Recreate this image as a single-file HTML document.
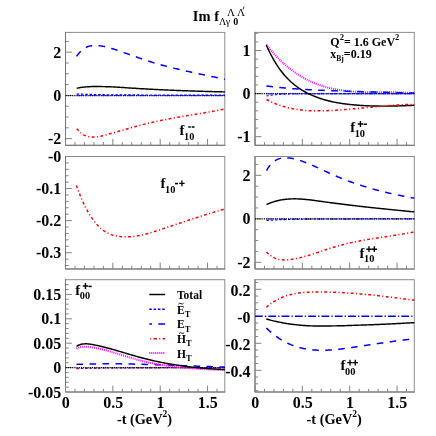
<!DOCTYPE html>
<html><head><meta charset="utf-8"><title>Im f</title>
<style>
html,body{margin:0;padding:0;background:#fff;}
body{width:436px;height:436px;overflow:hidden;}
svg{display:block;will-change:transform;}
text{font-family:"Liberation Serif",serif;font-weight:bold;fill:#000;}
.ax{font-size:16px;}
.xt{font-size:14.3px;}
.lg{font-size:11.5px;}
.pf{font-size:14.8px;}
.ps{font-size:10.3px;}
.pp{font-size:10.5px;}
.tt{font-size:14.5px;}
.tsn{font-size:10px;font-weight:normal;}
.tsb{font-size:10px;}
.tsu{font-size:11px;font-weight:normal;}
.an{font-size:12px;}
</style></head>
<body>
<svg width="436" height="436" viewBox="0 0 436 436">
<rect width="436" height="436" fill="#fff"/>
<rect x="65.5" y="32.4" width="159.3" height="112.9" fill="#fff" stroke="#8c8c8c" stroke-width="1"/>
<path d="M65.5 31.9 V145.3 H225.3" fill="none" stroke="#747474" stroke-width="1"/>
<rect x="255.0" y="32.4" width="159.3" height="112.9" fill="#fff" stroke="#8c8c8c" stroke-width="1"/>
<path d="M255.0 31.9 V145.3 H414.8" fill="none" stroke="#747474" stroke-width="1"/>
<path d="M65.50 145.3 v-6.4 M74.97 145.3 v-3.2 M84.44 145.3 v-3.2 M93.91 145.3 v-3.2 M103.38 145.3 v-3.2 M112.85 145.3 v-6.4 M122.32 145.3 v-3.2 M131.79 145.3 v-3.2 M141.26 145.3 v-3.2 M150.73 145.3 v-3.2 M160.20 145.3 v-6.4 M169.67 145.3 v-3.2 M179.14 145.3 v-3.2 M188.61 145.3 v-3.2 M198.08 145.3 v-3.2 M207.55 145.3 v-6.4 M217.02 145.3 v-3.2" stroke="#828282" stroke-width="1" fill="none"/>
<path d="M255.00 145.3 v-6.4 M264.47 145.3 v-3.2 M273.94 145.3 v-3.2 M283.41 145.3 v-3.2 M292.88 145.3 v-3.2 M302.35 145.3 v-6.4 M311.82 145.3 v-3.2 M321.29 145.3 v-3.2 M330.76 145.3 v-3.2 M340.23 145.3 v-3.2 M349.70 145.3 v-6.4 M359.17 145.3 v-3.2 M368.64 145.3 v-3.2 M378.11 145.3 v-3.2 M387.58 145.3 v-3.2 M397.05 145.3 v-6.4 M406.52 145.3 v-3.2" stroke="#828282" stroke-width="1" fill="none"/>
<rect x="65.5" y="156.5" width="159.3" height="112.5" fill="#fff" stroke="#8c8c8c" stroke-width="1"/>
<path d="M65.5 156.0 V269.0 H225.3" fill="none" stroke="#747474" stroke-width="1"/>
<rect x="255.0" y="156.5" width="159.3" height="112.5" fill="#fff" stroke="#8c8c8c" stroke-width="1"/>
<path d="M255.0 156.0 V269.0 H414.8" fill="none" stroke="#747474" stroke-width="1"/>
<path d="M65.50 269.0 v-6.4 M74.97 269.0 v-3.2 M84.44 269.0 v-3.2 M93.91 269.0 v-3.2 M103.38 269.0 v-3.2 M112.85 269.0 v-6.4 M122.32 269.0 v-3.2 M131.79 269.0 v-3.2 M141.26 269.0 v-3.2 M150.73 269.0 v-3.2 M160.20 269.0 v-6.4 M169.67 269.0 v-3.2 M179.14 269.0 v-3.2 M188.61 269.0 v-3.2 M198.08 269.0 v-3.2 M207.55 269.0 v-6.4 M217.02 269.0 v-3.2" stroke="#828282" stroke-width="1" fill="none"/>
<path d="M255.00 269.0 v-6.4 M264.47 269.0 v-3.2 M273.94 269.0 v-3.2 M283.41 269.0 v-3.2 M292.88 269.0 v-3.2 M302.35 269.0 v-6.4 M311.82 269.0 v-3.2 M321.29 269.0 v-3.2 M330.76 269.0 v-3.2 M340.23 269.0 v-3.2 M349.70 269.0 v-6.4 M359.17 269.0 v-3.2 M368.64 269.0 v-3.2 M378.11 269.0 v-3.2 M387.58 269.0 v-3.2 M397.05 269.0 v-6.4 M406.52 269.0 v-3.2" stroke="#828282" stroke-width="1" fill="none"/>
<rect x="65.5" y="279.7" width="159.3" height="112.3" fill="#fff" stroke="#8c8c8c" stroke-width="1"/>
<path d="M65.5 279.2 V392.0 H225.3" fill="none" stroke="#747474" stroke-width="1"/>
<rect x="255.0" y="279.7" width="159.3" height="112.3" fill="#fff" stroke="#8c8c8c" stroke-width="1"/>
<path d="M255.0 279.2 V392.0 H414.8" fill="none" stroke="#747474" stroke-width="1"/>
<path d="M65.50 392.0 v-6.4 M74.97 392.0 v-3.2 M84.44 392.0 v-3.2 M93.91 392.0 v-3.2 M103.38 392.0 v-3.2 M112.85 392.0 v-6.4 M122.32 392.0 v-3.2 M131.79 392.0 v-3.2 M141.26 392.0 v-3.2 M150.73 392.0 v-3.2 M160.20 392.0 v-6.4 M169.67 392.0 v-3.2 M179.14 392.0 v-3.2 M188.61 392.0 v-3.2 M198.08 392.0 v-3.2 M207.55 392.0 v-6.4 M217.02 392.0 v-3.2" stroke="#828282" stroke-width="1" fill="none"/>
<path d="M255.00 392.0 v-6.4 M264.47 392.0 v-3.2 M273.94 392.0 v-3.2 M283.41 392.0 v-3.2 M292.88 392.0 v-3.2 M302.35 392.0 v-6.4 M311.82 392.0 v-3.2 M321.29 392.0 v-3.2 M330.76 392.0 v-3.2 M340.23 392.0 v-3.2 M349.70 392.0 v-6.4 M359.17 392.0 v-3.2 M368.64 392.0 v-3.2 M378.11 392.0 v-3.2 M387.58 392.0 v-3.2 M397.05 392.0 v-6.4 M406.52 392.0 v-3.2" stroke="#828282" stroke-width="1" fill="none"/>
<path d="M65.5 138.60 h6.4 M65.5 127.80 h3.2 M65.5 117.00 h3.2 M65.5 106.20 h3.2 M65.5 95.40 h6.4 M65.5 84.60 h3.2 M65.5 73.80 h3.2 M65.5 63.00 h3.2 M65.5 52.20 h6.4 M65.5 41.40 h3.2" stroke="#828282" stroke-width="1" fill="none"/>
<text x="61.3" y="57.70" text-anchor="end" class="ax">2</text>
<text x="61.3" y="100.90" text-anchor="end" class="ax">0</text>
<text x="61.3" y="144.10" text-anchor="end" class="ax">-2</text>
<path d="M255.0 136.70 h6.4 M255.0 128.08 h3.2 M255.0 119.46 h3.2 M255.0 110.84 h3.2 M255.0 102.22 h3.2 M255.0 93.60 h6.4 M255.0 84.98 h3.2 M255.0 76.36 h3.2 M255.0 67.74 h3.2 M255.0 59.12 h3.2 M255.0 50.50 h6.4 M255.0 41.88 h3.2 M255.0 33.26 h3.2" stroke="#828282" stroke-width="1" fill="none"/>
<text x="250.6" y="56.00" text-anchor="end" class="ax">1</text>
<text x="250.6" y="99.10" text-anchor="end" class="ax">0</text>
<text x="250.6" y="142.20" text-anchor="end" class="ax">-1</text>
<path d="M65.5 265.54 h3.2 M65.5 259.12 h3.2 M65.5 252.71 h6.4 M65.5 246.30 h3.2 M65.5 239.88 h3.2 M65.5 233.47 h3.2 M65.5 227.05 h3.2 M65.5 220.64 h6.4 M65.5 214.23 h3.2 M65.5 207.81 h3.2 M65.5 201.40 h3.2 M65.5 194.98 h3.2 M65.5 188.57 h6.4 M65.5 182.16 h3.2 M65.5 175.74 h3.2 M65.5 169.33 h3.2 M65.5 162.91 h3.2" stroke="#828282" stroke-width="1" fill="none"/>
<text x="61.3" y="162.00" text-anchor="end" class="ax">-0</text>
<text x="61.3" y="194.07" text-anchor="end" class="ax">-0.1</text>
<text x="61.3" y="226.14" text-anchor="end" class="ax">-0.2</text>
<text x="61.3" y="258.21" text-anchor="end" class="ax">-0.3</text>
<path d="M255.0 262.30 h6.4 M255.0 251.43 h3.2 M255.0 240.55 h3.2 M255.0 229.68 h3.2 M255.0 218.80 h6.4 M255.0 207.93 h3.2 M255.0 197.05 h3.2 M255.0 186.18 h3.2 M255.0 175.30 h6.4 M255.0 164.43 h3.2" stroke="#828282" stroke-width="1" fill="none"/>
<text x="250.6" y="180.80" text-anchor="end" class="ax">2</text>
<text x="250.6" y="224.30" text-anchor="end" class="ax">0</text>
<text x="250.6" y="267.80" text-anchor="end" class="ax">-2</text>
<path d="M65.5 387.12 h3.2 M65.5 382.24 h3.2 M65.5 377.36 h3.2 M65.5 372.48 h3.2 M65.5 367.60 h6.4 M65.5 362.72 h3.2 M65.5 357.84 h3.2 M65.5 352.96 h3.2 M65.5 348.08 h3.2 M65.5 343.20 h6.4 M65.5 338.32 h3.2 M65.5 333.44 h3.2 M65.5 328.56 h3.2 M65.5 323.68 h3.2 M65.5 318.80 h6.4 M65.5 313.92 h3.2 M65.5 309.04 h3.2 M65.5 304.16 h3.2 M65.5 299.28 h3.2 M65.5 294.40 h6.4 M65.5 289.52 h3.2 M65.5 284.64 h3.2" stroke="#828282" stroke-width="1" fill="none"/>
<text x="61.3" y="299.90" text-anchor="end" class="ax">0.15</text>
<text x="61.3" y="324.30" text-anchor="end" class="ax">0.1</text>
<text x="61.3" y="348.70" text-anchor="end" class="ax">0.05</text>
<text x="61.3" y="373.10" text-anchor="end" class="ax">0</text>
<text x="61.3" y="397.50" text-anchor="end" class="ax">-0.05</text>
<path d="M255.0 390.55 h3.2 M255.0 383.80 h3.2 M255.0 377.05 h3.2 M255.0 370.30 h6.4 M255.0 363.55 h3.2 M255.0 356.80 h3.2 M255.0 350.05 h3.2 M255.0 343.30 h6.4 M255.0 336.55 h3.2 M255.0 329.80 h3.2 M255.0 323.05 h3.2 M255.0 316.30 h6.4 M255.0 309.55 h3.2 M255.0 302.80 h3.2 M255.0 296.05 h3.2 M255.0 289.30 h6.4 M255.0 282.55 h3.2" stroke="#828282" stroke-width="1" fill="none"/>
<text x="250.6" y="295.70" text-anchor="end" class="ax">0.2</text>
<text x="250.6" y="322.70" text-anchor="end" class="ax">-0</text>
<text x="250.6" y="349.70" text-anchor="end" class="ax">-0.2</text>
<text x="250.6" y="376.70" text-anchor="end" class="ax">-0.4</text>
<text x="65.80" y="408.0" text-anchor="middle" class="ax">0</text>
<text x="113.15" y="408.0" text-anchor="middle" class="ax">0.5</text>
<text x="160.50" y="408.0" text-anchor="middle" class="ax">1</text>
<text x="207.85" y="408.0" text-anchor="middle" class="ax">1.5</text>
<text x="255.30" y="408.0" text-anchor="middle" class="ax">0</text>
<text x="302.65" y="408.0" text-anchor="middle" class="ax">0.5</text>
<text x="350.00" y="408.0" text-anchor="middle" class="ax">1</text>
<text x="397.35" y="408.0" text-anchor="middle" class="ax">1.5</text>
<text x="116.9" y="423.9" class="xt">-t (GeV<tspan dy="-6.6" font-size="9.5">2</tspan><tspan dy="6.6">)</tspan></text>
<text x="306.6" y="423.9" class="xt">-t (GeV<tspan dy="-6.6" font-size="9.5">2</tspan><tspan dy="6.6">)</tspan></text>
<path d="M65.5 95.5 H224.8" fill="none" stroke="#000" stroke-width="1.25" stroke-dasharray="1.2 1.0"/>
<path d="M76.6 95.6 H224.8" fill="none" stroke="#0000ff" stroke-width="0.8" stroke-dasharray="7 2.2 1.2 2.2"/>
<path d="M76.6 94.00 L77.6 94.03 L78.6 94.07 L79.6 94.10 L80.6 94.13 L81.6 94.16 L82.6 94.19 L83.6 94.23 L84.6 94.25 L85.6 94.28 L86.6 94.31 L87.6 94.34 L88.6 94.36 L89.6 94.39 L90.6 94.41 L91.6 94.44 L92.6 94.46 L93.6 94.49 L94.6 94.51 L95.6 94.54 L96.6 94.56 L97.6 94.58 L98.6 94.61 L99.6 94.63 L100.6 94.65 L101.6 94.67 L102.6 94.69 L103.6 94.71 L104.6 94.73 L105.6 94.75 L106.6 94.76 L107.6 94.77 L108.6 94.79 L109.6 94.80 L110.6 94.81 L111.6 94.81 L112.6 94.82 L113.6 94.83 L114.6 94.84 L115.6 94.84 L116.6 94.85 L117.6 94.86 L118.6 94.87 L119.6 94.87 L120.6 94.88 L121.6 94.89 L122.6 94.89 L123.6 94.90 L124.6 94.90 L125.6 94.91 L126.6 94.91 L127.6 94.92 L128.6 94.92 L129.6 94.93 L130.6 94.93 L131.6 94.94 L132.6 94.94 L133.6 94.95 L134.6 94.95 L135.6 94.96 L136.6 94.96 L137.6 94.96 L138.6 94.97 L139.6 94.97 L140.6 94.97 L141.6 94.98 L142.6 94.98 L143.6 94.98 L144.6 94.99 L145.6 94.99 L146.6 94.99 L147.6 94.99 L148.6 95.00 L149.6 95.00 L150.6 95.00 L151.6 95.00 L152.6 95.01 L153.6 95.01 L154.6 95.01 L155.6 95.01 L156.6 95.01 L157.6 95.02 L158.6 95.02 L159.6 95.02 L160.6 95.02 L161.6 95.03 L162.6 95.03 L163.6 95.03 L164.6 95.03 L165.6 95.03 L166.6 95.04 L167.6 95.04 L168.6 95.04 L169.6 95.04 L170.6 95.04 L171.6 95.04 L172.6 95.05 L173.6 95.05 L174.6 95.05 L175.6 95.05 L176.6 95.05 L177.6 95.06 L178.6 95.06 L179.6 95.06 L180.6 95.06 L181.6 95.06 L182.6 95.06 L183.6 95.07 L184.6 95.07 L185.6 95.07 L186.6 95.07 L187.6 95.07 L188.6 95.07 L189.6 95.07 L190.6 95.08 L191.6 95.08 L192.6 95.08 L193.6 95.08 L194.6 95.08 L195.6 95.08 L196.6 95.08 L197.6 95.08 L198.6 95.09 L199.6 95.09 L200.6 95.09 L201.6 95.09 L202.6 95.09 L203.6 95.09 L204.6 95.09 L205.6 95.09 L206.6 95.09 L207.6 95.09 L208.6 95.09 L209.6 95.09 L210.6 95.10 L211.6 95.10 L212.6 95.10 L213.6 95.10 L214.6 95.10 L215.6 95.10 L216.6 95.10 L217.6 95.10 L218.6 95.10 L219.6 95.10 L220.6 95.10 L221.6 95.10 L222.6 95.10 L223.6 95.10 L224.6 95.10 L224.8 95.10" fill="none" stroke="#0000ff" stroke-width="1.2" stroke-dasharray="2.6 1.7"/>
<path d="M76.6 56.39 L77.6 54.96 L78.6 53.65 L79.6 52.47 L80.6 51.40 L81.6 50.44 L82.6 49.59 L83.6 48.84 L84.6 48.18 L85.6 47.62 L86.6 47.13 L87.6 46.72 L88.6 46.38 L89.6 46.10 L90.6 45.89 L91.6 45.73 L92.6 45.61 L93.6 45.54 L94.6 45.51 L95.6 45.50 L96.6 45.53 L97.6 45.58 L98.6 45.66 L99.6 45.76 L100.6 45.88 L101.6 46.03 L102.6 46.19 L103.6 46.38 L104.6 46.59 L105.6 46.81 L106.6 47.05 L107.6 47.30 L108.6 47.57 L109.6 47.85 L110.6 48.14 L111.6 48.45 L112.6 48.76 L113.6 49.08 L114.6 49.40 L115.6 49.73 L116.6 50.07 L117.6 50.41 L118.6 50.75 L119.6 51.10 L120.6 51.44 L121.6 51.79 L122.6 52.14 L123.6 52.49 L124.6 52.84 L125.6 53.19 L126.6 53.54 L127.6 53.90 L128.6 54.25 L129.6 54.61 L130.6 54.96 L131.6 55.31 L132.6 55.67 L133.6 56.02 L134.6 56.37 L135.6 56.72 L136.6 57.07 L137.6 57.42 L138.6 57.77 L139.6 58.12 L140.6 58.46 L141.6 58.80 L142.6 59.14 L143.6 59.48 L144.6 59.81 L145.6 60.15 L146.6 60.47 L147.6 60.80 L148.6 61.12 L149.6 61.44 L150.6 61.76 L151.6 62.07 L152.6 62.38 L153.6 62.68 L154.6 62.98 L155.6 63.28 L156.6 63.58 L157.6 63.87 L158.6 64.15 L159.6 64.44 L160.6 64.72 L161.6 65.00 L162.6 65.27 L163.6 65.55 L164.6 65.82 L165.6 66.08 L166.6 66.35 L167.6 66.61 L168.6 66.87 L169.6 67.12 L170.6 67.38 L171.6 67.63 L172.6 67.88 L173.6 68.13 L174.6 68.37 L175.6 68.61 L176.6 68.85 L177.6 69.09 L178.6 69.33 L179.6 69.56 L180.6 69.79 L181.6 70.03 L182.6 70.25 L183.6 70.48 L184.6 70.71 L185.6 70.93 L186.6 71.16 L187.6 71.38 L188.6 71.60 L189.6 71.82 L190.6 72.03 L191.6 72.25 L192.6 72.47 L193.6 72.68 L194.6 72.89 L195.6 73.11 L196.6 73.32 L197.6 73.53 L198.6 73.74 L199.6 73.95 L200.6 74.16 L201.6 74.37 L202.6 74.58 L203.6 74.79 L204.6 74.99 L205.6 75.20 L206.6 75.41 L207.6 75.62 L208.6 75.82 L209.6 76.03 L210.6 76.24 L211.6 76.44 L212.6 76.65 L213.6 76.86 L214.6 77.07 L215.6 77.28 L216.6 77.49 L217.6 77.70 L218.6 77.91 L219.6 78.12 L220.6 78.33 L221.6 78.54 L222.6 78.76 L223.6 78.97 L224.6 79.19 L224.8 79.23" fill="none" stroke="#0000ff" stroke-width="1.5" stroke-dasharray="6.6 6.4"/>
<path d="M76.6 88.30 L77.6 88.10 L78.6 87.91 L79.6 87.72 L80.6 87.55 L81.6 87.39 L82.6 87.25 L83.6 87.13 L84.6 87.03 L85.6 86.95 L86.6 86.88 L87.6 86.80 L88.6 86.74 L89.6 86.67 L90.6 86.62 L91.6 86.57 L92.6 86.53 L93.6 86.51 L94.6 86.50 L95.6 86.50 L96.6 86.51 L97.6 86.51 L98.6 86.53 L99.6 86.54 L100.6 86.56 L101.6 86.58 L102.6 86.60 L103.6 86.62 L104.6 86.65 L105.6 86.67 L106.6 86.70 L107.6 86.73 L108.6 86.76 L109.6 86.79 L110.6 86.82 L111.6 86.85 L112.6 86.90 L113.6 86.94 L114.6 86.99 L115.6 87.05 L116.6 87.10 L117.6 87.17 L118.6 87.23 L119.6 87.30 L120.6 87.36 L121.6 87.43 L122.6 87.50 L123.6 87.57 L124.6 87.64 L125.6 87.71 L126.6 87.78 L127.6 87.85 L128.6 87.91 L129.6 87.98 L130.6 88.04 L131.6 88.10 L132.6 88.16 L133.6 88.22 L134.6 88.28 L135.6 88.34 L136.6 88.41 L137.6 88.47 L138.6 88.53 L139.6 88.60 L140.6 88.66 L141.6 88.72 L142.6 88.78 L143.6 88.84 L144.6 88.90 L145.6 88.96 L146.6 89.01 L147.6 89.07 L148.6 89.13 L149.6 89.18 L150.6 89.23 L151.6 89.28 L152.6 89.33 L153.6 89.39 L154.6 89.44 L155.6 89.49 L156.6 89.54 L157.6 89.59 L158.6 89.63 L159.6 89.68 L160.6 89.73 L161.6 89.78 L162.6 89.83 L163.6 89.87 L164.6 89.92 L165.6 89.97 L166.6 90.01 L167.6 90.06 L168.6 90.10 L169.6 90.14 L170.6 90.19 L171.6 90.23 L172.6 90.27 L173.6 90.31 L174.6 90.35 L175.6 90.39 L176.6 90.43 L177.6 90.47 L178.6 90.51 L179.6 90.55 L180.6 90.59 L181.6 90.62 L182.6 90.66 L183.6 90.69 L184.6 90.73 L185.6 90.76 L186.6 90.80 L187.6 90.83 L188.6 90.87 L189.6 90.90 L190.6 90.94 L191.6 90.97 L192.6 91.01 L193.6 91.04 L194.6 91.07 L195.6 91.11 L196.6 91.14 L197.6 91.17 L198.6 91.20 L199.6 91.23 L200.6 91.26 L201.6 91.30 L202.6 91.33 L203.6 91.36 L204.6 91.39 L205.6 91.42 L206.6 91.45 L207.6 91.47 L208.6 91.50 L209.6 91.53 L210.6 91.56 L211.6 91.58 L212.6 91.61 L213.6 91.64 L214.6 91.66 L215.6 91.69 L216.6 91.71 L217.6 91.74 L218.6 91.76 L219.6 91.79 L220.6 91.81 L221.6 91.83 L222.6 91.85 L223.6 91.87 L224.6 91.90 L224.8 91.90" fill="none" stroke="#000" stroke-width="1.45"/>
<path d="M76.8 128.69 L77.8 129.87 L78.8 130.95 L79.8 131.92 L80.8 132.79 L81.8 133.56 L82.8 134.24 L83.8 134.84 L84.8 135.36 L85.8 135.80 L86.8 136.16 L87.8 136.46 L88.8 136.70 L89.8 136.88 L90.8 137.01 L91.8 137.09 L92.8 137.12 L93.8 137.12 L94.8 137.08 L95.8 137.00 L96.8 136.89 L97.8 136.76 L98.8 136.59 L99.8 136.40 L100.8 136.20 L101.8 135.97 L102.8 135.73 L103.8 135.48 L104.8 135.21 L105.8 134.94 L106.8 134.67 L107.8 134.39 L108.8 134.11 L109.8 133.84 L110.8 133.56 L111.8 133.27 L112.8 132.99 L113.8 132.71 L114.8 132.43 L115.8 132.14 L116.8 131.86 L117.8 131.57 L118.8 131.28 L119.8 131.00 L120.8 130.71 L121.8 130.43 L122.8 130.14 L123.8 129.85 L124.8 129.57 L125.8 129.28 L126.8 129.00 L127.8 128.72 L128.8 128.43 L129.8 128.15 L130.8 127.87 L131.8 127.59 L132.8 127.31 L133.8 127.04 L134.8 126.76 L135.8 126.49 L136.8 126.22 L137.8 125.95 L138.8 125.68 L139.8 125.41 L140.8 125.15 L141.8 124.89 L142.8 124.63 L143.8 124.37 L144.8 124.12 L145.8 123.86 L146.8 123.62 L147.8 123.37 L148.8 123.13 L149.8 122.89 L150.8 122.65 L151.8 122.42 L152.8 122.19 L153.8 121.96 L154.8 121.74 L155.8 121.52 L156.8 121.30 L157.8 121.09 L158.8 120.88 L159.8 120.67 L160.8 120.46 L161.8 120.26 L162.8 120.06 L163.8 119.86 L164.8 119.66 L165.8 119.46 L166.8 119.27 L167.8 119.08 L168.8 118.89 L169.8 118.71 L170.8 118.52 L171.8 118.34 L172.8 118.15 L173.8 117.97 L174.8 117.80 L175.8 117.62 L176.8 117.44 L177.8 117.27 L178.8 117.09 L179.8 116.92 L180.8 116.75 L181.8 116.58 L182.8 116.41 L183.8 116.24 L184.8 116.07 L185.8 115.90 L186.8 115.74 L187.8 115.57 L188.8 115.40 L189.8 115.24 L190.8 115.07 L191.8 114.91 L192.8 114.74 L193.8 114.57 L194.8 114.41 L195.8 114.24 L196.8 114.08 L197.8 113.91 L198.8 113.74 L199.8 113.58 L200.8 113.41 L201.8 113.24 L202.8 113.07 L203.8 112.90 L204.8 112.73 L205.8 112.56 L206.8 112.38 L207.8 112.21 L208.8 112.03 L209.8 111.86 L210.8 111.68 L211.8 111.50 L212.8 111.32 L213.8 111.13 L214.8 110.95 L215.8 110.76 L216.8 110.58 L217.8 110.39 L218.8 110.20 L219.8 110.00 L220.8 109.81 L221.8 109.61 L222.8 109.41 L223.8 109.20 L224.8 109.00" fill="none" stroke="#ff0000" stroke-width="1.5" stroke-dasharray="2.9 2.4 1.1 2.4"/>
<path d="M266.3 44.45 L267.3 45.74 L268.3 47.00 L269.3 48.24 L270.3 49.45 L271.3 50.64 L272.3 51.80 L273.3 52.94 L274.3 54.06 L275.3 55.16 L276.3 56.23 L277.3 57.28 L278.3 58.31 L279.3 59.32 L280.3 60.30 L281.3 61.27 L282.3 62.21 L283.3 63.13 L284.3 64.04 L285.3 64.92 L286.3 65.78 L287.3 66.63 L288.3 67.45 L289.3 68.26 L290.3 69.04 L291.3 69.81 L292.3 70.56 L293.3 71.29 L294.3 72.01 L295.3 72.70 L296.3 73.38 L297.3 74.05 L298.3 74.69 L299.3 75.32 L300.3 75.94 L301.3 76.54 L302.3 77.12 L303.3 77.69 L304.3 78.24 L305.3 78.78 L306.3 79.31 L307.3 79.82 L308.3 80.32 L309.3 80.80 L310.3 81.27 L311.3 81.73 L312.3 82.17 L313.3 82.60 L314.3 83.02 L315.3 83.43 L316.3 83.83 L317.3 84.21 L318.3 84.58 L319.3 84.94 L320.3 85.29 L321.3 85.63 L322.3 85.96 L323.3 86.27 L324.3 86.58 L325.3 86.88 L326.3 87.16 L327.3 87.44 L328.3 87.70 L329.3 87.96 L330.3 88.20 L331.3 88.44 L332.3 88.67 L333.3 88.88 L334.3 89.09 L335.3 89.29 L336.3 89.49 L337.3 89.67 L338.3 89.85 L339.3 90.02 L340.3 90.18 L341.3 90.33 L342.3 90.47 L343.3 90.61 L344.3 90.74 L345.3 90.87 L346.3 90.99 L347.3 91.10 L348.3 91.20 L349.3 91.30 L350.3 91.39 L351.3 91.48 L352.3 91.56 L353.3 91.64 L354.3 91.71 L355.3 91.78 L356.3 91.84 L357.3 91.89 L358.3 91.95 L359.3 91.99 L360.3 92.04 L361.3 92.08 L362.3 92.11 L363.3 92.14 L364.3 92.17 L365.3 92.20 L366.3 92.22 L367.3 92.24 L368.3 92.26 L369.3 92.27 L370.3 92.28 L371.3 92.29 L372.3 92.30 L373.3 92.31 L374.3 92.31 L375.3 92.31 L376.3 92.31 L377.3 92.31 L378.3 92.31 L379.3 92.31 L380.3 92.31 L381.3 92.31 L382.3 92.30 L383.3 92.30 L384.3 92.30 L385.3 92.30 L386.3 92.30 L387.3 92.30 L388.3 92.30 L389.3 92.30 L390.3 92.30 L391.3 92.30 L392.3 92.31 L393.3 92.31 L394.3 92.32 L395.3 92.34 L396.3 92.35 L397.3 92.36 L398.3 92.38 L399.3 92.40 L400.3 92.43 L401.3 92.46 L402.3 92.49 L403.3 92.52 L404.3 92.56 L405.3 92.60 L406.3 92.65 L407.3 92.70 L408.3 92.75 L409.3 92.81 L410.3 92.88 L411.3 92.95 L412.3 93.02 L413.3 93.10 L414.3 93.19" fill="none" stroke="#ff00ff" stroke-width="1.95" stroke-dasharray="1 1"/>
<path d="M255.0 93.6 H414.3" fill="none" stroke="#000" stroke-width="1.25" stroke-dasharray="1.2 1.0"/>
<path d="M266.4 96.00 L267.4 95.84 L268.4 95.68 L269.4 95.52 L270.4 95.37 L271.4 95.23 L272.4 95.10 L273.4 94.98 L274.4 94.86 L275.4 94.76 L276.4 94.66 L277.4 94.56 L278.4 94.46 L279.4 94.37 L280.4 94.28 L281.4 94.20 L282.4 94.13 L283.4 94.07 L284.4 94.02 L285.4 93.99 L286.4 93.95 L287.4 93.92 L288.4 93.89 L289.4 93.87 L290.4 93.84 L291.4 93.82 L292.4 93.79 L293.4 93.77 L294.4 93.76 L295.4 93.74 L296.4 93.73 L297.4 93.72 L298.4 93.71 L299.4 93.70 L300.4 93.70 L301.4 93.70 L302.4 93.69 L303.4 93.69 L304.4 93.69 L305.4 93.69 L306.4 93.69 L307.4 93.68 L308.4 93.68 L309.4 93.68 L310.4 93.68 L311.4 93.68 L312.4 93.68 L313.4 93.67 L314.4 93.67 L315.4 93.67 L316.4 93.67 L317.4 93.67 L318.4 93.66 L319.4 93.66 L320.4 93.66 L321.4 93.66 L322.4 93.66 L323.4 93.66 L324.4 93.66 L325.4 93.65 L326.4 93.65 L327.4 93.65 L328.4 93.65 L329.4 93.65 L330.4 93.65 L331.4 93.65 L332.4 93.64 L333.4 93.64 L334.4 93.64 L335.4 93.64 L336.4 93.64 L337.4 93.64 L338.4 93.64 L339.4 93.64 L340.4 93.63 L341.4 93.63 L342.4 93.63 L343.4 93.63 L344.4 93.63 L345.4 93.63 L346.4 93.63 L347.4 93.63 L348.4 93.63 L349.4 93.63 L350.4 93.62 L351.4 93.62 L352.4 93.62 L353.4 93.62 L354.4 93.62 L355.4 93.62 L356.4 93.62 L357.4 93.62 L358.4 93.62 L359.4 93.62 L360.4 93.62 L361.4 93.62 L362.4 93.61 L363.4 93.61 L364.4 93.61 L365.4 93.61 L366.4 93.61 L367.4 93.61 L368.4 93.61 L369.4 93.61 L370.4 93.61 L371.4 93.61 L372.4 93.61 L373.4 93.61 L374.4 93.61 L375.4 93.61 L376.4 93.61 L377.4 93.61 L378.4 93.61 L379.4 93.61 L380.4 93.61 L381.4 93.61 L382.4 93.60 L383.4 93.60 L384.4 93.60 L385.4 93.60 L386.4 93.60 L387.4 93.60 L388.4 93.60 L389.4 93.60 L390.4 93.60 L391.4 93.60 L392.4 93.60 L393.4 93.60 L394.4 93.60 L395.4 93.60 L396.4 93.60 L397.4 93.60 L398.4 93.60 L399.4 93.60 L400.4 93.60 L401.4 93.60 L402.4 93.60 L403.4 93.60 L404.4 93.60 L405.4 93.60 L406.4 93.60 L407.4 93.60 L408.4 93.60 L409.4 93.60 L410.4 93.60 L411.4 93.60 L412.4 93.60 L413.4 93.60 L414.3 93.60" fill="none" stroke="#0000ff" stroke-width="1.05" stroke-dasharray="2.3 2.0"/>
<path d="M266.4 93.8 H414.3" fill="none" stroke="#0000ff" stroke-width="0.8" stroke-dasharray="7 2.2 1.2 2.2"/>
<path d="M266.4 85.90 L267.4 86.03 L268.4 86.15 L269.4 86.28 L270.4 86.40 L271.4 86.53 L272.4 86.65 L273.4 86.77 L274.4 86.88 L275.4 87.00 L276.4 87.11 L277.4 87.23 L278.4 87.34 L279.4 87.44 L280.4 87.55 L281.4 87.65 L282.4 87.76 L283.4 87.85 L284.4 87.95 L285.4 88.05 L286.4 88.14 L287.4 88.23 L288.4 88.31 L289.4 88.40 L290.4 88.48 L291.4 88.55 L292.4 88.63 L293.4 88.70 L294.4 88.77 L295.4 88.84 L296.4 88.91 L297.4 88.98 L298.4 89.05 L299.4 89.11 L300.4 89.17 L301.4 89.23 L302.4 89.30 L303.4 89.35 L304.4 89.41 L305.4 89.47 L306.4 89.53 L307.4 89.58 L308.4 89.64 L309.4 89.69 L310.4 89.74 L311.4 89.79 L312.4 89.84 L313.4 89.89 L314.4 89.94 L315.4 89.99 L316.4 90.04 L317.4 90.08 L318.4 90.13 L319.4 90.17 L320.4 90.22 L321.4 90.26 L322.4 90.31 L323.4 90.35 L324.4 90.39 L325.4 90.43 L326.4 90.47 L327.4 90.51 L328.4 90.55 L329.4 90.59 L330.4 90.63 L331.4 90.67 L332.4 90.71 L333.4 90.74 L334.4 90.78 L335.4 90.81 L336.4 90.85 L337.4 90.89 L338.4 90.92 L339.4 90.95 L340.4 90.99 L341.4 91.02 L342.4 91.06 L343.4 91.09 L344.4 91.12 L345.4 91.15 L346.4 91.19 L347.4 91.22 L348.4 91.25 L349.4 91.28 L350.4 91.31 L351.4 91.34 L352.4 91.37 L353.4 91.41 L354.4 91.44 L355.4 91.47 L356.4 91.50 L357.4 91.53 L358.4 91.56 L359.4 91.59 L360.4 91.62 L361.4 91.65 L362.4 91.68 L363.4 91.71 L364.4 91.74 L365.4 91.77 L366.4 91.80 L367.4 91.83 L368.4 91.86 L369.4 91.89 L370.4 91.92 L371.4 91.95 L372.4 91.97 L373.4 92.00 L374.4 92.03 L375.4 92.06 L376.4 92.09 L377.4 92.12 L378.4 92.14 L379.4 92.17 L380.4 92.20 L381.4 92.23 L382.4 92.25 L383.4 92.28 L384.4 92.31 L385.4 92.33 L386.4 92.36 L387.4 92.38 L388.4 92.41 L389.4 92.44 L390.4 92.46 L391.4 92.49 L392.4 92.51 L393.4 92.54 L394.4 92.56 L395.4 92.59 L396.4 92.61 L397.4 92.63 L398.4 92.66 L399.4 92.68 L400.4 92.70 L401.4 92.73 L402.4 92.75 L403.4 92.77 L404.4 92.79 L405.4 92.82 L406.4 92.84 L407.4 92.86 L408.4 92.88 L409.4 92.90 L410.4 92.92 L411.4 92.94 L412.4 92.96 L413.4 92.98 L414.3 93.00" fill="none" stroke="#0000ff" stroke-width="1.5" stroke-dasharray="6.6 6.4"/>
<path d="M266.3 45.08 L267.3 47.29 L268.3 49.43 L269.3 51.49 L270.3 53.49 L271.3 55.41 L272.3 57.27 L273.3 59.06 L274.3 60.79 L275.3 62.46 L276.3 64.07 L277.3 65.62 L278.3 67.11 L279.3 68.55 L280.3 69.93 L281.3 71.27 L282.3 72.55 L283.3 73.79 L284.3 74.98 L285.3 76.13 L286.3 77.24 L287.3 78.30 L288.3 79.33 L289.3 80.31 L290.3 81.27 L291.3 82.18 L292.3 83.07 L293.3 83.92 L294.3 84.74 L295.3 85.52 L296.3 86.28 L297.3 87.01 L298.3 87.72 L299.3 88.40 L300.3 89.05 L301.3 89.68 L302.3 90.29 L303.3 90.87 L304.3 91.44 L305.3 91.99 L306.3 92.52 L307.3 93.03 L308.3 93.53 L309.3 94.01 L310.3 94.48 L311.3 94.94 L312.3 95.38 L313.3 95.81 L314.3 96.22 L315.3 96.63 L316.3 97.02 L317.3 97.39 L318.3 97.76 L319.3 98.11 L320.3 98.45 L321.3 98.79 L322.3 99.11 L323.3 99.41 L324.3 99.71 L325.3 100.00 L326.3 100.28 L327.3 100.54 L328.3 100.80 L329.3 101.05 L330.3 101.29 L331.3 101.52 L332.3 101.74 L333.3 101.96 L334.3 102.16 L335.3 102.36 L336.3 102.55 L337.3 102.73 L338.3 102.91 L339.3 103.07 L340.3 103.23 L341.3 103.39 L342.3 103.54 L343.3 103.68 L344.3 103.82 L345.3 103.95 L346.3 104.07 L347.3 104.20 L348.3 104.31 L349.3 104.42 L350.3 104.53 L351.3 104.63 L352.3 104.73 L353.3 104.83 L354.3 104.92 L355.3 105.01 L356.3 105.09 L357.3 105.17 L358.3 105.25 L359.3 105.32 L360.3 105.39 L361.3 105.46 L362.3 105.52 L363.3 105.58 L364.3 105.63 L365.3 105.69 L366.3 105.73 L367.3 105.78 L368.3 105.82 L369.3 105.86 L370.3 105.90 L371.3 105.93 L372.3 105.96 L373.3 105.99 L374.3 106.01 L375.3 106.04 L376.3 106.05 L377.3 106.07 L378.3 106.09 L379.3 106.10 L380.3 106.11 L381.3 106.11 L382.3 106.12 L383.3 106.12 L384.3 106.12 L385.3 106.11 L386.3 106.11 L387.3 106.10 L388.3 106.09 L389.3 106.08 L390.3 106.07 L391.3 106.05 L392.3 106.03 L393.3 106.02 L394.3 105.99 L395.3 105.97 L396.3 105.95 L397.3 105.92 L398.3 105.90 L399.3 105.87 L400.3 105.84 L401.3 105.81 L402.3 105.77 L403.3 105.74 L404.3 105.70 L405.3 105.67 L406.3 105.63 L407.3 105.59 L408.3 105.55 L409.3 105.51 L410.3 105.47 L411.3 105.43 L412.3 105.38 L413.3 105.34 L414.3 105.29" fill="none" stroke="#000" stroke-width="1.45"/>
<path d="M266.5 99.49 L267.5 100.02 L268.5 100.53 L269.5 101.02 L270.5 101.51 L271.5 101.97 L272.5 102.42 L273.5 102.86 L274.5 103.28 L275.5 103.69 L276.5 104.09 L277.5 104.47 L278.5 104.84 L279.5 105.19 L280.5 105.53 L281.5 105.86 L282.5 106.17 L283.5 106.48 L284.5 106.77 L285.5 107.05 L286.5 107.31 L287.5 107.57 L288.5 107.81 L289.5 108.04 L290.5 108.27 L291.5 108.48 L292.5 108.68 L293.5 108.87 L294.5 109.05 L295.5 109.22 L296.5 109.38 L297.5 109.53 L298.5 109.67 L299.5 109.80 L300.5 109.92 L301.5 110.04 L302.5 110.14 L303.5 110.24 L304.5 110.33 L305.5 110.41 L306.5 110.48 L307.5 110.55 L308.5 110.61 L309.5 110.66 L310.5 110.71 L311.5 110.75 L312.5 110.78 L313.5 110.80 L314.5 110.82 L315.5 110.84 L316.5 110.85 L317.5 110.85 L318.5 110.85 L319.5 110.84 L320.5 110.83 L321.5 110.81 L322.5 110.79 L323.5 110.77 L324.5 110.74 L325.5 110.71 L326.5 110.67 L327.5 110.63 L328.5 110.59 L329.5 110.54 L330.5 110.49 L331.5 110.44 L332.5 110.39 L333.5 110.34 L334.5 110.28 L335.5 110.22 L336.5 110.16 L337.5 110.09 L338.5 110.03 L339.5 109.96 L340.5 109.89 L341.5 109.82 L342.5 109.74 L343.5 109.67 L344.5 109.59 L345.5 109.51 L346.5 109.43 L347.5 109.35 L348.5 109.27 L349.5 109.18 L350.5 109.10 L351.5 109.01 L352.5 108.92 L353.5 108.84 L354.5 108.75 L355.5 108.66 L356.5 108.56 L357.5 108.47 L358.5 108.38 L359.5 108.29 L360.5 108.19 L361.5 108.10 L362.5 108.01 L363.5 107.91 L364.5 107.82 L365.5 107.72 L366.5 107.63 L367.5 107.53 L368.5 107.44 L369.5 107.34 L370.5 107.25 L371.5 107.15 L372.5 107.06 L373.5 106.96 L374.5 106.87 L375.5 106.78 L376.5 106.68 L377.5 106.59 L378.5 106.50 L379.5 106.41 L380.5 106.32 L381.5 106.24 L382.5 106.15 L383.5 106.06 L384.5 105.98 L385.5 105.89 L386.5 105.81 L387.5 105.73 L388.5 105.65 L389.5 105.57 L390.5 105.50 L391.5 105.42 L392.5 105.35 L393.5 105.28 L394.5 105.21 L395.5 105.14 L396.5 105.08 L397.5 105.01 L398.5 104.95 L399.5 104.89 L400.5 104.84 L401.5 104.78 L402.5 104.73 L403.5 104.68 L404.5 104.63 L405.5 104.59 L406.5 104.55 L407.5 104.51 L408.5 104.47 L409.5 104.44 L410.5 104.41 L411.5 104.38 L412.5 104.36 L413.5 104.34 L414.3 104.32" fill="none" stroke="#ff0000" stroke-width="1.5" stroke-dasharray="2.9 2.4 1.1 2.4"/>
<path d="M76.4 185.39 L77.4 188.19 L78.4 190.89 L79.4 193.49 L80.4 195.99 L81.4 198.39 L82.4 200.69 L83.4 202.90 L84.4 205.02 L85.4 207.05 L86.4 208.99 L87.4 210.84 L88.4 212.61 L89.4 214.30 L90.4 215.91 L91.4 217.44 L92.4 218.89 L93.4 220.27 L94.4 221.57 L95.4 222.81 L96.4 223.97 L97.4 225.07 L98.4 226.11 L99.4 227.08 L100.4 227.99 L101.4 228.85 L102.4 229.65 L103.4 230.39 L104.4 231.08 L105.4 231.72 L106.4 232.31 L107.4 232.85 L108.4 233.35 L109.4 233.81 L110.4 234.23 L111.4 234.60 L112.4 234.94 L113.4 235.25 L114.4 235.52 L115.4 235.76 L116.4 235.98 L117.4 236.16 L118.4 236.32 L119.4 236.46 L120.4 236.58 L121.4 236.67 L122.4 236.75 L123.4 236.81 L124.4 236.85 L125.4 236.87 L126.4 236.87 L127.4 236.86 L128.4 236.83 L129.4 236.78 L130.4 236.71 L131.4 236.64 L132.4 236.54 L133.4 236.43 L134.4 236.31 L135.4 236.17 L136.4 236.02 L137.4 235.86 L138.4 235.69 L139.4 235.50 L140.4 235.30 L141.4 235.09 L142.4 234.87 L143.4 234.65 L144.4 234.41 L145.4 234.16 L146.4 233.90 L147.4 233.63 L148.4 233.36 L149.4 233.08 L150.4 232.79 L151.4 232.50 L152.4 232.20 L153.4 231.89 L154.4 231.58 L155.4 231.27 L156.4 230.95 L157.4 230.62 L158.4 230.30 L159.4 229.97 L160.4 229.64 L161.4 229.30 L162.4 228.97 L163.4 228.63 L164.4 228.29 L165.4 227.95 L166.4 227.62 L167.4 227.28 L168.4 226.94 L169.4 226.61 L170.4 226.27 L171.4 225.93 L172.4 225.60 L173.4 225.26 L174.4 224.93 L175.4 224.59 L176.4 224.26 L177.4 223.92 L178.4 223.59 L179.4 223.25 L180.4 222.92 L181.4 222.59 L182.4 222.26 L183.4 221.92 L184.4 221.59 L185.4 221.26 L186.4 220.93 L187.4 220.60 L188.4 220.28 L189.4 219.95 L190.4 219.62 L191.4 219.29 L192.4 218.97 L193.4 218.64 L194.4 218.32 L195.4 218.00 L196.4 217.67 L197.4 217.35 L198.4 217.03 L199.4 216.71 L200.4 216.39 L201.4 216.08 L202.4 215.76 L203.4 215.44 L204.4 215.13 L205.4 214.82 L206.4 214.50 L207.4 214.19 L208.4 213.88 L209.4 213.57 L210.4 213.27 L211.4 212.96 L212.4 212.66 L213.4 212.35 L214.4 212.05 L215.4 211.75 L216.4 211.45 L217.4 211.15 L218.4 210.85 L219.4 210.56 L220.4 210.26 L221.4 209.97 L222.4 209.68 L223.4 209.39 L224.4 209.10 L224.8 208.99" fill="none" stroke="#ff0000" stroke-width="1.5" stroke-dasharray="2.9 2.4 1.1 2.4"/>
<path d="M266.5 220.50 L267.5 220.44 L268.5 220.38 L269.5 220.32 L270.5 220.26 L271.5 220.21 L272.5 220.15 L273.5 220.10 L274.5 220.05 L275.5 220.00 L276.5 219.95 L277.5 219.90 L278.5 219.86 L279.5 219.82 L280.5 219.78 L281.5 219.74 L282.5 219.70 L283.5 219.67 L284.5 219.63 L285.5 219.59 L286.5 219.55 L287.5 219.52 L288.5 219.49 L289.5 219.45 L290.5 219.42 L291.5 219.39 L292.5 219.36 L293.5 219.33 L294.5 219.31 L295.5 219.28 L296.5 219.26 L297.5 219.24 L298.5 219.22 L299.5 219.21 L300.5 219.19 L301.5 219.18 L302.5 219.17 L303.5 219.16 L304.5 219.14 L305.5 219.13 L306.5 219.12 L307.5 219.11 L308.5 219.10 L309.5 219.09 L310.5 219.08 L311.5 219.07 L312.5 219.06 L313.5 219.05 L314.5 219.04 L315.5 219.03 L316.5 219.03 L317.5 219.02 L318.5 219.01 L319.5 219.00 L320.5 218.99 L321.5 218.99 L322.5 218.98 L323.5 218.97 L324.5 218.97 L325.5 218.96 L326.5 218.96 L327.5 218.95 L328.5 218.94 L329.5 218.94 L330.5 218.93 L331.5 218.93 L332.5 218.93 L333.5 218.92 L334.5 218.92 L335.5 218.91 L336.5 218.91 L337.5 218.91 L338.5 218.90 L339.5 218.90 L340.5 218.90 L341.5 218.90 L342.5 218.89 L343.5 218.89 L344.5 218.89 L345.5 218.89 L346.5 218.88 L347.5 218.88 L348.5 218.88 L349.5 218.88 L350.5 218.88 L351.5 218.87 L352.5 218.87 L353.5 218.87 L354.5 218.87 L355.5 218.86 L356.5 218.86 L357.5 218.86 L358.5 218.86 L359.5 218.86 L360.5 218.85 L361.5 218.85 L362.5 218.85 L363.5 218.85 L364.5 218.85 L365.5 218.85 L366.5 218.84 L367.5 218.84 L368.5 218.84 L369.5 218.84 L370.5 218.84 L371.5 218.84 L372.5 218.83 L373.5 218.83 L374.5 218.83 L375.5 218.83 L376.5 218.83 L377.5 218.83 L378.5 218.83 L379.5 218.82 L380.5 218.82 L381.5 218.82 L382.5 218.82 L383.5 218.82 L384.5 218.82 L385.5 218.82 L386.5 218.82 L387.5 218.81 L388.5 218.81 L389.5 218.81 L390.5 218.81 L391.5 218.81 L392.5 218.81 L393.5 218.81 L394.5 218.81 L395.5 218.81 L396.5 218.81 L397.5 218.81 L398.5 218.81 L399.5 218.80 L400.5 218.80 L401.5 218.80 L402.5 218.80 L403.5 218.80 L404.5 218.80 L405.5 218.80 L406.5 218.80 L407.5 218.80 L408.5 218.80 L409.5 218.80 L410.5 218.80 L411.5 218.80 L412.5 218.80 L413.5 218.80 L414.3 218.80" fill="none" stroke="#0000ff" stroke-width="1.05" stroke-dasharray="2.3 2.0"/>
<path d="M266.5 219.0 H414.3" fill="none" stroke="#0000ff" stroke-width="0.8" stroke-dasharray="7 2.2 1.2 2.2"/>
<path d="M255.0 218.8 H414.3" fill="none" stroke="#000" stroke-width="1.25" stroke-dasharray="1.2 1.0"/>
<path d="M266.5 170.55 L267.5 168.89 L268.5 167.38 L269.5 166.02 L270.5 164.78 L271.5 163.68 L272.5 162.69 L273.5 161.82 L274.5 161.06 L275.5 160.40 L276.5 159.83 L277.5 159.35 L278.5 158.95 L279.5 158.62 L280.5 158.36 L281.5 158.16 L282.5 158.02 L283.5 157.92 L284.5 157.86 L285.5 157.83 L286.5 157.84 L287.5 157.88 L288.5 157.95 L289.5 158.05 L290.5 158.17 L291.5 158.32 L292.5 158.50 L293.5 158.70 L294.5 158.92 L295.5 159.16 L296.5 159.43 L297.5 159.71 L298.5 160.01 L299.5 160.33 L300.5 160.66 L301.5 161.00 L302.5 161.36 L303.5 161.73 L304.5 162.11 L305.5 162.50 L306.5 162.89 L307.5 163.29 L308.5 163.70 L309.5 164.12 L310.5 164.54 L311.5 164.97 L312.5 165.41 L313.5 165.85 L314.5 166.29 L315.5 166.74 L316.5 167.19 L317.5 167.64 L318.5 168.10 L319.5 168.56 L320.5 169.02 L321.5 169.48 L322.5 169.95 L323.5 170.41 L324.5 170.88 L325.5 171.34 L326.5 171.80 L327.5 172.26 L328.5 172.72 L329.5 173.18 L330.5 173.64 L331.5 174.09 L332.5 174.54 L333.5 174.99 L334.5 175.43 L335.5 175.87 L336.5 176.30 L337.5 176.72 L338.5 177.15 L339.5 177.56 L340.5 177.97 L341.5 178.38 L342.5 178.78 L343.5 179.18 L344.5 179.57 L345.5 179.96 L346.5 180.35 L347.5 180.72 L348.5 181.10 L349.5 181.47 L350.5 181.83 L351.5 182.20 L352.5 182.55 L353.5 182.91 L354.5 183.25 L355.5 183.60 L356.5 183.94 L357.5 184.27 L358.5 184.61 L359.5 184.93 L360.5 185.26 L361.5 185.58 L362.5 185.89 L363.5 186.21 L364.5 186.52 L365.5 186.82 L366.5 187.12 L367.5 187.42 L368.5 187.71 L369.5 188.00 L370.5 188.29 L371.5 188.58 L372.5 188.86 L373.5 189.13 L374.5 189.41 L375.5 189.68 L376.5 189.95 L377.5 190.21 L378.5 190.47 L379.5 190.73 L380.5 190.98 L381.5 191.24 L382.5 191.49 L383.5 191.73 L384.5 191.98 L385.5 192.22 L386.5 192.46 L387.5 192.69 L388.5 192.92 L389.5 193.16 L390.5 193.38 L391.5 193.61 L392.5 193.83 L393.5 194.05 L394.5 194.27 L395.5 194.49 L396.5 194.70 L397.5 194.91 L398.5 195.12 L399.5 195.33 L400.5 195.54 L401.5 195.74 L402.5 195.94 L403.5 196.14 L404.5 196.34 L405.5 196.54 L406.5 196.73 L407.5 196.93 L408.5 197.12 L409.5 197.31 L410.5 197.50 L411.5 197.68 L412.5 197.87 L413.5 198.05 L414.3 198.20" fill="none" stroke="#0000ff" stroke-width="1.5" stroke-dasharray="6.6 6.4"/>
<path d="M266.5 204.59 L267.5 204.13 L268.5 203.70 L269.5 203.29 L270.5 202.90 L271.5 202.53 L272.5 202.18 L273.5 201.85 L274.5 201.54 L275.5 201.25 L276.5 200.97 L277.5 200.72 L278.5 200.49 L279.5 200.27 L280.5 200.07 L281.5 199.89 L282.5 199.72 L283.5 199.57 L284.5 199.43 L285.5 199.31 L286.5 199.20 L287.5 199.11 L288.5 199.03 L289.5 198.97 L290.5 198.92 L291.5 198.88 L292.5 198.85 L293.5 198.84 L294.5 198.83 L295.5 198.84 L296.5 198.86 L297.5 198.89 L298.5 198.92 L299.5 198.97 L300.5 199.02 L301.5 199.09 L302.5 199.16 L303.5 199.23 L304.5 199.32 L305.5 199.41 L306.5 199.51 L307.5 199.61 L308.5 199.72 L309.5 199.84 L310.5 199.96 L311.5 200.08 L312.5 200.21 L313.5 200.34 L314.5 200.47 L315.5 200.60 L316.5 200.74 L317.5 200.88 L318.5 201.02 L319.5 201.16 L320.5 201.30 L321.5 201.44 L322.5 201.58 L323.5 201.72 L324.5 201.85 L325.5 201.99 L326.5 202.13 L327.5 202.26 L328.5 202.40 L329.5 202.53 L330.5 202.66 L331.5 202.80 L332.5 202.93 L333.5 203.06 L334.5 203.19 L335.5 203.32 L336.5 203.45 L337.5 203.58 L338.5 203.70 L339.5 203.83 L340.5 203.96 L341.5 204.08 L342.5 204.21 L343.5 204.33 L344.5 204.45 L345.5 204.58 L346.5 204.70 L347.5 204.82 L348.5 204.94 L349.5 205.06 L350.5 205.18 L351.5 205.30 L352.5 205.42 L353.5 205.54 L354.5 205.65 L355.5 205.77 L356.5 205.89 L357.5 206.00 L358.5 206.12 L359.5 206.23 L360.5 206.35 L361.5 206.46 L362.5 206.57 L363.5 206.69 L364.5 206.80 L365.5 206.91 L366.5 207.02 L367.5 207.13 L368.5 207.24 L369.5 207.35 L370.5 207.46 L371.5 207.57 L372.5 207.68 L373.5 207.78 L374.5 207.89 L375.5 208.00 L376.5 208.10 L377.5 208.21 L378.5 208.32 L379.5 208.42 L380.5 208.52 L381.5 208.63 L382.5 208.73 L383.5 208.84 L384.5 208.94 L385.5 209.04 L386.5 209.15 L387.5 209.25 L388.5 209.35 L389.5 209.45 L390.5 209.55 L391.5 209.65 L392.5 209.75 L393.5 209.85 L394.5 209.95 L395.5 210.05 L396.5 210.15 L397.5 210.25 L398.5 210.35 L399.5 210.45 L400.5 210.55 L401.5 210.65 L402.5 210.74 L403.5 210.84 L404.5 210.94 L405.5 211.04 L406.5 211.13 L407.5 211.23 L408.5 211.33 L409.5 211.42 L410.5 211.52 L411.5 211.62 L412.5 211.71 L413.5 211.81 L414.3 211.89" fill="none" stroke="#000" stroke-width="1.45"/>
<path d="M266.5 251.97 L267.5 252.97 L268.5 253.89 L269.5 254.73 L270.5 255.49 L271.5 256.18 L272.5 256.80 L273.5 257.36 L274.5 257.85 L275.5 258.28 L276.5 258.66 L277.5 258.97 L278.5 259.24 L279.5 259.46 L280.5 259.63 L281.5 259.76 L282.5 259.85 L283.5 259.91 L284.5 259.93 L285.5 259.92 L286.5 259.88 L287.5 259.82 L288.5 259.73 L289.5 259.63 L290.5 259.51 L291.5 259.38 L292.5 259.23 L293.5 259.07 L294.5 258.90 L295.5 258.71 L296.5 258.52 L297.5 258.31 L298.5 258.09 L299.5 257.86 L300.5 257.62 L301.5 257.38 L302.5 257.12 L303.5 256.85 L304.5 256.58 L305.5 256.30 L306.5 256.01 L307.5 255.72 L308.5 255.42 L309.5 255.11 L310.5 254.80 L311.5 254.48 L312.5 254.16 L313.5 253.84 L314.5 253.51 L315.5 253.18 L316.5 252.85 L317.5 252.51 L318.5 252.17 L319.5 251.84 L320.5 251.50 L321.5 251.16 L322.5 250.82 L323.5 250.48 L324.5 250.15 L325.5 249.81 L326.5 249.48 L327.5 249.15 L328.5 248.83 L329.5 248.50 L330.5 248.19 L331.5 247.87 L332.5 247.56 L333.5 247.26 L334.5 246.96 L335.5 246.67 L336.5 246.38 L337.5 246.10 L338.5 245.82 L339.5 245.55 L340.5 245.28 L341.5 245.02 L342.5 244.76 L343.5 244.51 L344.5 244.26 L345.5 244.01 L346.5 243.77 L347.5 243.54 L348.5 243.31 L349.5 243.08 L350.5 242.85 L351.5 242.63 L352.5 242.42 L353.5 242.20 L354.5 242.00 L355.5 241.79 L356.5 241.59 L357.5 241.39 L358.5 241.19 L359.5 241.00 L360.5 240.81 L361.5 240.62 L362.5 240.43 L363.5 240.25 L364.5 240.07 L365.5 239.89 L366.5 239.72 L367.5 239.54 L368.5 239.37 L369.5 239.20 L370.5 239.03 L371.5 238.87 L372.5 238.70 L373.5 238.54 L374.5 238.38 L375.5 238.22 L376.5 238.06 L377.5 237.90 L378.5 237.75 L379.5 237.59 L380.5 237.44 L381.5 237.28 L382.5 237.13 L383.5 236.98 L384.5 236.83 L385.5 236.67 L386.5 236.52 L387.5 236.37 L388.5 236.22 L389.5 236.07 L390.5 235.92 L391.5 235.76 L392.5 235.61 L393.5 235.46 L394.5 235.30 L395.5 235.15 L396.5 235.00 L397.5 234.84 L398.5 234.68 L399.5 234.52 L400.5 234.37 L401.5 234.21 L402.5 234.04 L403.5 233.88 L404.5 233.72 L405.5 233.55 L406.5 233.38 L407.5 233.21 L408.5 233.04 L409.5 232.86 L410.5 232.69 L411.5 232.51 L412.5 232.33 L413.5 232.14 L414.3 232.00" fill="none" stroke="#ff0000" stroke-width="1.5" stroke-dasharray="2.9 2.4 1.1 2.4"/>
<path d="M76.5 368.70 L77.5 368.67 L78.5 368.63 L79.5 368.60 L80.5 368.57 L81.5 368.53 L82.5 368.50 L83.5 368.47 L84.5 368.44 L85.5 368.41 L86.5 368.38 L87.5 368.36 L88.5 368.33 L89.5 368.31 L90.5 368.28 L91.5 368.26 L92.5 368.24 L93.5 368.22 L94.5 368.21 L95.5 368.19 L96.5 368.18 L97.5 368.17 L98.5 368.15 L99.5 368.14 L100.5 368.13 L101.5 368.12 L102.5 368.10 L103.5 368.09 L104.5 368.08 L105.5 368.07 L106.5 368.06 L107.5 368.05 L108.5 368.04 L109.5 368.03 L110.5 368.02 L111.5 368.01 L112.5 368.00 L113.5 367.99 L114.5 367.98 L115.5 367.97 L116.5 367.97 L117.5 367.96 L118.5 367.95 L119.5 367.95 L120.5 367.94 L121.5 367.93 L122.5 367.93 L123.5 367.92 L124.5 367.92 L125.5 367.91 L126.5 367.91 L127.5 367.91 L128.5 367.90 L129.5 367.90 L130.5 367.90 L131.5 367.90 L132.5 367.89 L133.5 367.89 L134.5 367.89 L135.5 367.89 L136.5 367.89 L137.5 367.88 L138.5 367.88 L139.5 367.88 L140.5 367.88 L141.5 367.88 L142.5 367.88 L143.5 367.87 L144.5 367.87 L145.5 367.87 L146.5 367.87 L147.5 367.87 L148.5 367.86 L149.5 367.86 L150.5 367.86 L151.5 367.86 L152.5 367.86 L153.5 367.86 L154.5 367.85 L155.5 367.85 L156.5 367.85 L157.5 367.85 L158.5 367.85 L159.5 367.85 L160.5 367.85 L161.5 367.84 L162.5 367.84 L163.5 367.84 L164.5 367.84 L165.5 367.84 L166.5 367.84 L167.5 367.84 L168.5 367.83 L169.5 367.83 L170.5 367.83 L171.5 367.83 L172.5 367.83 L173.5 367.83 L174.5 367.83 L175.5 367.83 L176.5 367.83 L177.5 367.82 L178.5 367.82 L179.5 367.82 L180.5 367.82 L181.5 367.82 L182.5 367.82 L183.5 367.82 L184.5 367.82 L185.5 367.82 L186.5 367.82 L187.5 367.82 L188.5 367.81 L189.5 367.81 L190.5 367.81 L191.5 367.81 L192.5 367.81 L193.5 367.81 L194.5 367.81 L195.5 367.81 L196.5 367.81 L197.5 367.81 L198.5 367.81 L199.5 367.81 L200.5 367.81 L201.5 367.81 L202.5 367.81 L203.5 367.80 L204.5 367.80 L205.5 367.80 L206.5 367.80 L207.5 367.80 L208.5 367.80 L209.5 367.80 L210.5 367.80 L211.5 367.80 L212.5 367.80 L213.5 367.80 L214.5 367.80 L215.5 367.80 L216.5 367.80 L217.5 367.80 L218.5 367.80 L219.5 367.80 L220.5 367.80 L221.5 367.80 L222.5 367.80 L223.5 367.80 L224.5 367.80 L224.8 367.80" fill="none" stroke="#0000ff" stroke-width="1.05" stroke-dasharray="2.3 2.0"/>
<path d="M76.5 368.40 L77.5 368.39 L78.5 368.38 L79.5 368.36 L80.5 368.35 L81.5 368.34 L82.5 368.33 L83.5 368.31 L84.5 368.30 L85.5 368.29 L86.5 368.28 L87.5 368.26 L88.5 368.25 L89.5 368.24 L90.5 368.23 L91.5 368.21 L92.5 368.20 L93.5 368.19 L94.5 368.18 L95.5 368.17 L96.5 368.16 L97.5 368.14 L98.5 368.13 L99.5 368.12 L100.5 368.11 L101.5 368.10 L102.5 368.09 L103.5 368.08 L104.5 368.07 L105.5 368.06 L106.5 368.05 L107.5 368.04 L108.5 368.03 L109.5 368.02 L110.5 368.01 L111.5 368.00 L112.5 367.99 L113.5 367.99 L114.5 367.98 L115.5 367.97 L116.5 367.96 L117.5 367.96 L118.5 367.95 L119.5 367.94 L120.5 367.94 L121.5 367.93 L122.5 367.93 L123.5 367.92 L124.5 367.92 L125.5 367.91 L126.5 367.91 L127.5 367.91 L128.5 367.90 L129.5 367.90 L130.5 367.90 L131.5 367.90 L132.5 367.89 L133.5 367.89 L134.5 367.89 L135.5 367.89 L136.5 367.89 L137.5 367.89 L138.5 367.88 L139.5 367.88 L140.5 367.88 L141.5 367.88 L142.5 367.88 L143.5 367.87 L144.5 367.87 L145.5 367.87 L146.5 367.87 L147.5 367.87 L148.5 367.87 L149.5 367.86 L150.5 367.86 L151.5 367.86 L152.5 367.86 L153.5 367.86 L154.5 367.86 L155.5 367.85 L156.5 367.85 L157.5 367.85 L158.5 367.85 L159.5 367.85 L160.5 367.85 L161.5 367.85 L162.5 367.84 L163.5 367.84 L164.5 367.84 L165.5 367.84 L166.5 367.84 L167.5 367.84 L168.5 367.84 L169.5 367.83 L170.5 367.83 L171.5 367.83 L172.5 367.83 L173.5 367.83 L174.5 367.83 L175.5 367.83 L176.5 367.83 L177.5 367.83 L178.5 367.82 L179.5 367.82 L180.5 367.82 L181.5 367.82 L182.5 367.82 L183.5 367.82 L184.5 367.82 L185.5 367.82 L186.5 367.82 L187.5 367.82 L188.5 367.82 L189.5 367.81 L190.5 367.81 L191.5 367.81 L192.5 367.81 L193.5 367.81 L194.5 367.81 L195.5 367.81 L196.5 367.81 L197.5 367.81 L198.5 367.81 L199.5 367.81 L200.5 367.81 L201.5 367.81 L202.5 367.81 L203.5 367.81 L204.5 367.80 L205.5 367.80 L206.5 367.80 L207.5 367.80 L208.5 367.80 L209.5 367.80 L210.5 367.80 L211.5 367.80 L212.5 367.80 L213.5 367.80 L214.5 367.80 L215.5 367.80 L216.5 367.80 L217.5 367.80 L218.5 367.80 L219.5 367.80 L220.5 367.80 L221.5 367.80 L222.5 367.80 L223.5 367.80 L224.5 367.80 L224.8 367.80" fill="none" stroke="#ff0000" stroke-width="1.0" stroke-dasharray="2.9 2.5 0.9 2.5"/>
<path d="M65.5 367.7 H224.8" fill="none" stroke="#000" stroke-width="1.25" stroke-dasharray="1.2 1.0"/>
<path d="M76.5 364.40 L77.5 364.37 L78.5 364.33 L79.5 364.30 L80.5 364.27 L81.5 364.24 L82.5 364.21 L83.5 364.18 L84.5 364.16 L85.5 364.13 L86.5 364.10 L87.5 364.08 L88.5 364.06 L89.5 364.03 L90.5 364.01 L91.5 363.99 L92.5 363.97 L93.5 363.95 L94.5 363.94 L95.5 363.92 L96.5 363.90 L97.5 363.89 L98.5 363.88 L99.5 363.86 L100.5 363.85 L101.5 363.84 L102.5 363.83 L103.5 363.82 L104.5 363.82 L105.5 363.81 L106.5 363.81 L107.5 363.80 L108.5 363.80 L109.5 363.80 L110.5 363.80 L111.5 363.80 L112.5 363.80 L113.5 363.81 L114.5 363.81 L115.5 363.82 L116.5 363.83 L117.5 363.84 L118.5 363.85 L119.5 363.86 L120.5 363.87 L121.5 363.89 L122.5 363.90 L123.5 363.91 L124.5 363.93 L125.5 363.95 L126.5 363.97 L127.5 363.98 L128.5 364.00 L129.5 364.02 L130.5 364.04 L131.5 364.06 L132.5 364.09 L133.5 364.11 L134.5 364.13 L135.5 364.15 L136.5 364.18 L137.5 364.20 L138.5 364.22 L139.5 364.25 L140.5 364.27 L141.5 364.30 L142.5 364.32 L143.5 364.34 L144.5 364.37 L145.5 364.39 L146.5 364.42 L147.5 364.44 L148.5 364.46 L149.5 364.49 L150.5 364.51 L151.5 364.54 L152.5 364.56 L153.5 364.59 L154.5 364.62 L155.5 364.64 L156.5 364.67 L157.5 364.71 L158.5 364.74 L159.5 364.77 L160.5 364.80 L161.5 364.84 L162.5 364.87 L163.5 364.90 L164.5 364.94 L165.5 364.98 L166.5 365.01 L167.5 365.05 L168.5 365.09 L169.5 365.12 L170.5 365.16 L171.5 365.20 L172.5 365.24 L173.5 365.28 L174.5 365.32 L175.5 365.35 L176.5 365.39 L177.5 365.43 L178.5 365.47 L179.5 365.51 L180.5 365.55 L181.5 365.59 L182.5 365.63 L183.5 365.66 L184.5 365.70 L185.5 365.74 L186.5 365.78 L187.5 365.81 L188.5 365.85 L189.5 365.88 L190.5 365.92 L191.5 365.95 L192.5 365.99 L193.5 366.02 L194.5 366.06 L195.5 366.09 L196.5 366.13 L197.5 366.16 L198.5 366.19 L199.5 366.23 L200.5 366.26 L201.5 366.30 L202.5 366.33 L203.5 366.37 L204.5 366.40 L205.5 366.44 L206.5 366.47 L207.5 366.51 L208.5 366.54 L209.5 366.57 L210.5 366.61 L211.5 366.64 L212.5 366.68 L213.5 366.71 L214.5 366.75 L215.5 366.78 L216.5 366.82 L217.5 366.85 L218.5 366.88 L219.5 366.92 L220.5 366.95 L221.5 366.99 L222.5 367.02 L223.5 367.06 L224.5 367.09 L224.8 367.10" fill="none" stroke="#0000ff" stroke-width="1.5" stroke-dasharray="6.6 6.4"/>
<path d="M76.5 348.67 L77.5 348.21 L78.5 347.82 L79.5 347.49 L80.5 347.22 L81.5 347.01 L82.5 346.85 L83.5 346.74 L84.5 346.68 L85.5 346.66 L86.5 346.67 L87.5 346.72 L88.5 346.80 L89.5 346.91 L90.5 347.04 L91.5 347.18 L92.5 347.35 L93.5 347.52 L94.5 347.70 L95.5 347.89 L96.5 348.09 L97.5 348.30 L98.5 348.52 L99.5 348.74 L100.5 348.97 L101.5 349.21 L102.5 349.45 L103.5 349.70 L104.5 349.96 L105.5 350.22 L106.5 350.49 L107.5 350.76 L108.5 351.04 L109.5 351.32 L110.5 351.61 L111.5 351.90 L112.5 352.19 L113.5 352.48 L114.5 352.78 L115.5 353.08 L116.5 353.39 L117.5 353.69 L118.5 354.00 L119.5 354.31 L120.5 354.62 L121.5 354.93 L122.5 355.24 L123.5 355.55 L124.5 355.86 L125.5 356.17 L126.5 356.48 L127.5 356.78 L128.5 357.09 L129.5 357.39 L130.5 357.70 L131.5 358.00 L132.5 358.29 L133.5 358.59 L134.5 358.88 L135.5 359.16 L136.5 359.45 L137.5 359.72 L138.5 360.00 L139.5 360.27 L140.5 360.53 L141.5 360.79 L142.5 361.04 L143.5 361.29 L144.5 361.53 L145.5 361.77 L146.5 362.00 L147.5 362.23 L148.5 362.45 L149.5 362.67 L150.5 362.88 L151.5 363.09 L152.5 363.29 L153.5 363.49 L154.5 363.69 L155.5 363.88 L156.5 364.07 L157.5 364.25 L158.5 364.42 L159.5 364.60 L160.5 364.77 L161.5 364.93 L162.5 365.09 L163.5 365.25 L164.5 365.40 L165.5 365.55 L166.5 365.70 L167.5 365.84 L168.5 365.98 L169.5 366.12 L170.5 366.25 L171.5 366.38 L172.5 366.50 L173.5 366.63 L174.5 366.75 L175.5 366.86 L176.5 366.98 L177.5 367.09 L178.5 367.19 L179.5 367.30 L180.5 367.40 L181.5 367.50 L182.5 367.60 L183.5 367.69 L184.5 367.78 L185.5 367.87 L186.5 367.96 L187.5 368.04 L188.5 368.12 L189.5 368.21 L190.5 368.28 L191.5 368.36 L192.5 368.43 L193.5 368.51 L194.5 368.58 L195.5 368.65 L196.5 368.71 L197.5 368.78 L198.5 368.84 L199.5 368.91 L200.5 368.97 L201.5 369.03 L202.5 369.09 L203.5 369.15 L204.5 369.20 L205.5 369.26 L206.5 369.31 L207.5 369.37 L208.5 369.42 L209.5 369.47 L210.5 369.52 L211.5 369.57 L212.5 369.62 L213.5 369.67 L214.5 369.72 L215.5 369.77 L216.5 369.82 L217.5 369.87 L218.5 369.92 L219.5 369.97 L220.5 370.01 L221.5 370.06 L222.5 370.11 L223.5 370.16 L224.5 370.21 L224.8 370.22" fill="none" stroke="#ff00ff" stroke-width="1.95" stroke-dasharray="1 1"/>
<path d="M76.5 346.31 L77.5 345.74 L78.5 345.26 L79.5 344.85 L80.5 344.52 L81.5 344.26 L82.5 344.07 L83.5 343.93 L84.5 343.85 L85.5 343.82 L86.5 343.83 L87.5 343.88 L88.5 343.97 L89.5 344.08 L90.5 344.23 L91.5 344.39 L92.5 344.56 L93.5 344.75 L94.5 344.94 L95.5 345.14 L96.5 345.34 L97.5 345.56 L98.5 345.78 L99.5 346.00 L100.5 346.23 L101.5 346.47 L102.5 346.71 L103.5 346.95 L104.5 347.20 L105.5 347.46 L106.5 347.72 L107.5 347.98 L108.5 348.25 L109.5 348.52 L110.5 348.80 L111.5 349.07 L112.5 349.35 L113.5 349.64 L114.5 349.92 L115.5 350.21 L116.5 350.50 L117.5 350.79 L118.5 351.09 L119.5 351.38 L120.5 351.68 L121.5 351.98 L122.5 352.27 L123.5 352.57 L124.5 352.87 L125.5 353.17 L126.5 353.47 L127.5 353.77 L128.5 354.06 L129.5 354.36 L130.5 354.65 L131.5 354.95 L132.5 355.24 L133.5 355.53 L134.5 355.82 L135.5 356.10 L136.5 356.39 L137.5 356.67 L138.5 356.95 L139.5 357.22 L140.5 357.49 L141.5 357.76 L142.5 358.02 L143.5 358.28 L144.5 358.54 L145.5 358.79 L146.5 359.04 L147.5 359.29 L148.5 359.53 L149.5 359.77 L150.5 360.01 L151.5 360.24 L152.5 360.47 L153.5 360.70 L154.5 360.92 L155.5 361.14 L156.5 361.36 L157.5 361.57 L158.5 361.78 L159.5 361.99 L160.5 362.19 L161.5 362.39 L162.5 362.59 L163.5 362.78 L164.5 362.97 L165.5 363.16 L166.5 363.35 L167.5 363.53 L168.5 363.71 L169.5 363.88 L170.5 364.06 L171.5 364.23 L172.5 364.39 L173.5 364.56 L174.5 364.72 L175.5 364.88 L176.5 365.03 L177.5 365.18 L178.5 365.33 L179.5 365.48 L180.5 365.62 L181.5 365.77 L182.5 365.90 L183.5 366.04 L184.5 366.17 L185.5 366.30 L186.5 366.43 L187.5 366.56 L188.5 366.68 L189.5 366.80 L190.5 366.92 L191.5 367.03 L192.5 367.14 L193.5 367.25 L194.5 367.36 L195.5 367.46 L196.5 367.57 L197.5 367.67 L198.5 367.76 L199.5 367.86 L200.5 367.95 L201.5 368.04 L202.5 368.13 L203.5 368.21 L204.5 368.30 L205.5 368.38 L206.5 368.46 L207.5 368.53 L208.5 368.61 L209.5 368.68 L210.5 368.75 L211.5 368.82 L212.5 368.88 L213.5 368.94 L214.5 369.00 L215.5 369.06 L216.5 369.12 L217.5 369.18 L218.5 369.23 L219.5 369.28 L220.5 369.33 L221.5 369.37 L222.5 369.42 L223.5 369.46 L224.5 369.50 L224.8 369.51" fill="none" stroke="#000" stroke-width="1.45"/>
<path d="M255.0 316.3 H414.3" fill="none" stroke="#0000ff" stroke-width="1.4" stroke-dasharray="7.8 2.1 1.3 2.1"/>
<path d="M266.3 307.26 L267.3 306.42 L268.3 305.62 L269.3 304.84 L270.3 304.09 L271.3 303.38 L272.3 302.69 L273.3 302.03 L274.3 301.40 L275.3 300.80 L276.3 300.23 L277.3 299.68 L278.3 299.16 L279.3 298.66 L280.3 298.18 L281.3 297.73 L282.3 297.31 L283.3 296.90 L284.3 296.52 L285.3 296.16 L286.3 295.82 L287.3 295.50 L288.3 295.20 L289.3 294.91 L290.3 294.65 L291.3 294.40 L292.3 294.17 L293.3 293.96 L294.3 293.76 L295.3 293.57 L296.3 293.41 L297.3 293.25 L298.3 293.11 L299.3 292.98 L300.3 292.86 L301.3 292.75 L302.3 292.65 L303.3 292.56 L304.3 292.49 L305.3 292.42 L306.3 292.36 L307.3 292.30 L308.3 292.25 L309.3 292.21 L310.3 292.18 L311.3 292.15 L312.3 292.12 L313.3 292.09 L314.3 292.07 L315.3 292.06 L316.3 292.04 L317.3 292.03 L318.3 292.02 L319.3 292.02 L320.3 292.01 L321.3 292.01 L322.3 292.02 L323.3 292.02 L324.3 292.03 L325.3 292.04 L326.3 292.06 L327.3 292.07 L328.3 292.09 L329.3 292.12 L330.3 292.14 L331.3 292.17 L332.3 292.20 L333.3 292.23 L334.3 292.26 L335.3 292.30 L336.3 292.34 L337.3 292.38 L338.3 292.43 L339.3 292.47 L340.3 292.52 L341.3 292.57 L342.3 292.62 L343.3 292.68 L344.3 292.74 L345.3 292.80 L346.3 292.86 L347.3 292.92 L348.3 292.99 L349.3 293.05 L350.3 293.12 L351.3 293.20 L352.3 293.27 L353.3 293.34 L354.3 293.42 L355.3 293.50 L356.3 293.58 L357.3 293.66 L358.3 293.75 L359.3 293.83 L360.3 293.92 L361.3 294.01 L362.3 294.10 L363.3 294.19 L364.3 294.28 L365.3 294.38 L366.3 294.48 L367.3 294.57 L368.3 294.67 L369.3 294.77 L370.3 294.87 L371.3 294.98 L372.3 295.08 L373.3 295.19 L374.3 295.29 L375.3 295.40 L376.3 295.51 L377.3 295.62 L378.3 295.73 L379.3 295.84 L380.3 295.96 L381.3 296.07 L382.3 296.19 L383.3 296.30 L384.3 296.42 L385.3 296.54 L386.3 296.66 L387.3 296.78 L388.3 296.90 L389.3 297.02 L390.3 297.14 L391.3 297.26 L392.3 297.38 L393.3 297.51 L394.3 297.63 L395.3 297.75 L396.3 297.88 L397.3 298.01 L398.3 298.13 L399.3 298.26 L400.3 298.38 L401.3 298.51 L402.3 298.64 L403.3 298.77 L404.3 298.89 L405.3 299.02 L406.3 299.15 L407.3 299.28 L408.3 299.41 L409.3 299.54 L410.3 299.66 L411.3 299.79 L412.3 299.92 L413.3 300.05 L414.3 300.18" fill="none" stroke="#ff0000" stroke-width="1.5" stroke-dasharray="2.9 2.4 1.1 2.4"/>
<path d="M266.3 319.00 L267.3 319.28 L268.3 319.55 L269.3 319.82 L270.3 320.09 L271.3 320.34 L272.3 320.59 L273.3 320.84 L274.3 321.08 L275.3 321.31 L276.3 321.53 L277.3 321.75 L278.3 321.96 L279.3 322.16 L280.3 322.36 L281.3 322.55 L282.3 322.74 L283.3 322.92 L284.3 323.10 L285.3 323.28 L286.3 323.45 L287.3 323.62 L288.3 323.78 L289.3 323.93 L290.3 324.08 L291.3 324.21 L292.3 324.33 L293.3 324.45 L294.3 324.55 L295.3 324.65 L296.3 324.76 L297.3 324.86 L298.3 324.96 L299.3 325.06 L300.3 325.16 L301.3 325.26 L302.3 325.35 L303.3 325.44 L304.3 325.52 L305.3 325.59 L306.3 325.66 L307.3 325.72 L308.3 325.78 L309.3 325.82 L310.3 325.86 L311.3 325.88 L312.3 325.90 L313.3 325.90 L314.3 325.90 L315.3 325.90 L316.3 325.90 L317.3 325.90 L318.3 325.90 L319.3 325.90 L320.3 325.90 L321.3 325.90 L322.3 325.90 L323.3 325.90 L324.3 325.90 L325.3 325.90 L326.3 325.90 L327.3 325.90 L328.3 325.90 L329.3 325.90 L330.3 325.90 L331.3 325.90 L332.3 325.89 L333.3 325.88 L334.3 325.87 L335.3 325.86 L336.3 325.85 L337.3 325.83 L338.3 325.81 L339.3 325.79 L340.3 325.77 L341.3 325.74 L342.3 325.71 L343.3 325.69 L344.3 325.66 L345.3 325.63 L346.3 325.60 L347.3 325.56 L348.3 325.53 L349.3 325.50 L350.3 325.46 L351.3 325.43 L352.3 325.39 L353.3 325.36 L354.3 325.33 L355.3 325.29 L356.3 325.26 L357.3 325.22 L358.3 325.19 L359.3 325.15 L360.3 325.12 L361.3 325.09 L362.3 325.06 L363.3 325.03 L364.3 324.99 L365.3 324.96 L366.3 324.92 L367.3 324.89 L368.3 324.85 L369.3 324.82 L370.3 324.78 L371.3 324.74 L372.3 324.70 L373.3 324.66 L374.3 324.63 L375.3 324.59 L376.3 324.54 L377.3 324.50 L378.3 324.46 L379.3 324.42 L380.3 324.38 L381.3 324.34 L382.3 324.29 L383.3 324.25 L384.3 324.20 L385.3 324.16 L386.3 324.11 L387.3 324.07 L388.3 324.02 L389.3 323.98 L390.3 323.93 L391.3 323.88 L392.3 323.83 L393.3 323.78 L394.3 323.73 L395.3 323.68 L396.3 323.63 L397.3 323.58 L398.3 323.53 L399.3 323.47 L400.3 323.42 L401.3 323.37 L402.3 323.31 L403.3 323.25 L404.3 323.20 L405.3 323.14 L406.3 323.08 L407.3 323.02 L408.3 322.96 L409.3 322.91 L410.3 322.85 L411.3 322.78 L412.3 322.72 L413.3 322.66 L414.3 322.60" fill="none" stroke="#000" stroke-width="1.45"/>
<path d="M266.3 327.93 L267.3 328.90 L268.3 329.85 L269.3 330.76 L270.3 331.65 L271.3 332.52 L272.3 333.36 L273.3 334.17 L274.3 334.96 L275.3 335.72 L276.3 336.46 L277.3 337.17 L278.3 337.86 L279.3 338.53 L280.3 339.17 L281.3 339.80 L282.3 340.39 L283.3 340.97 L284.3 341.53 L285.3 342.06 L286.3 342.57 L287.3 343.07 L288.3 343.54 L289.3 343.99 L290.3 344.43 L291.3 344.84 L292.3 345.24 L293.3 345.61 L294.3 345.97 L295.3 346.32 L296.3 346.64 L297.3 346.95 L298.3 347.24 L299.3 347.52 L300.3 347.78 L301.3 348.03 L302.3 348.26 L303.3 348.47 L304.3 348.67 L305.3 348.86 L306.3 349.03 L307.3 349.20 L308.3 349.34 L309.3 349.48 L310.3 349.60 L311.3 349.72 L312.3 349.82 L313.3 349.91 L314.3 349.99 L315.3 350.06 L316.3 350.11 L317.3 350.16 L318.3 350.20 L319.3 350.23 L320.3 350.26 L321.3 350.27 L322.3 350.27 L323.3 350.27 L324.3 350.25 L325.3 350.23 L326.3 350.20 L327.3 350.17 L328.3 350.12 L329.3 350.07 L330.3 350.01 L331.3 349.95 L332.3 349.88 L333.3 349.80 L334.3 349.72 L335.3 349.63 L336.3 349.53 L337.3 349.43 L338.3 349.33 L339.3 349.22 L340.3 349.11 L341.3 348.99 L342.3 348.86 L343.3 348.74 L344.3 348.61 L345.3 348.47 L346.3 348.34 L347.3 348.20 L348.3 348.06 L349.3 347.91 L350.3 347.77 L351.3 347.62 L352.3 347.47 L353.3 347.31 L354.3 347.16 L355.3 347.00 L356.3 346.85 L357.3 346.69 L358.3 346.54 L359.3 346.38 L360.3 346.22 L361.3 346.07 L362.3 345.91 L363.3 345.75 L364.3 345.60 L365.3 345.44 L366.3 345.29 L367.3 345.14 L368.3 344.98 L369.3 344.83 L370.3 344.68 L371.3 344.53 L372.3 344.38 L373.3 344.23 L374.3 344.08 L375.3 343.93 L376.3 343.78 L377.3 343.63 L378.3 343.49 L379.3 343.34 L380.3 343.19 L381.3 343.05 L382.3 342.90 L383.3 342.76 L384.3 342.62 L385.3 342.48 L386.3 342.34 L387.3 342.19 L388.3 342.06 L389.3 341.92 L390.3 341.78 L391.3 341.64 L392.3 341.51 L393.3 341.37 L394.3 341.24 L395.3 341.10 L396.3 340.97 L397.3 340.84 L398.3 340.71 L399.3 340.58 L400.3 340.45 L401.3 340.32 L402.3 340.20 L403.3 340.07 L404.3 339.95 L405.3 339.82 L406.3 339.70 L407.3 339.58 L408.3 339.46 L409.3 339.34 L410.3 339.22 L411.3 339.11 L412.3 338.99 L413.3 338.88 L414.3 338.76" fill="none" stroke="#0000ff" stroke-width="1.5" stroke-dasharray="6.6 6.4"/>
<path d="M149.3 294.5 H165.1" fill="none" stroke="#000" stroke-width="1.45"/>
<path d="M149.3 309.2 H165.1" fill="none" stroke="#0000ff" stroke-width="1.5" stroke-dasharray="2.5 1.8"/>
<path d="M149.3 324.0 H165.1" fill="none" stroke="#0000ff" stroke-width="1.7" stroke-dasharray="2.7 6.3 7 20"/>
<path d="M149.3 338.8 H165.1" fill="none" stroke="#ff0000" stroke-width="1.45" stroke-dasharray="0 1.0 1.0 2.2 3.4 2.4 1.0 2.4 3.4 10"/>
<path d="M149.3 353.0 H165.1" fill="none" stroke="#ff00ff" stroke-width="1.95" stroke-dasharray="1 1"/>
<text x="177" y="298.8" class="lg">Total</text>
<text x="177" y="313.6" class="lg">E<tspan dy="3.2" font-size="8.5">T</tspan></text>
<text x="177" y="328.3" class="lg">E<tspan dy="3.2" font-size="8.5">T</tspan></text>
<text x="177" y="343.0" class="lg">H<tspan dy="3.2" font-size="8.5">T</tspan></text>
<text x="177" y="357.6" class="lg">H<tspan dy="3.2" font-size="8.5">T</tspan></text>
<path d="M178.4 304.2 q1.2 -1.6 2.6 -0.5 q1.4 1.1 2.6 -0.5" fill="none" stroke="#000" stroke-width="0.9"/>
<path d="M179.0 333.6 q1.2 -1.6 2.6 -0.5 q1.4 1.1 2.6 -0.5" fill="none" stroke="#000" stroke-width="0.9"/>
<text x="179.6" y="134.8" class="pf">f</text>
<text x="184.1" y="139.5" class="ps">10</text>
<path d="M188.30 127.00 H190.80" stroke="#000" stroke-width="1.5" fill="none"/>
<path d="M191.70 127.00 H194.50" stroke="#000" stroke-width="1.5" fill="none"/>
<text x="350.2" y="132.4" class="pf">f</text>
<text x="354.7" y="137.1" class="ps">10</text>
<path d="M357.70 124.00 H363.10 M360.40 121.10 V126.90" stroke="#000" stroke-width="1.35" fill="none"/>
<path d="M363.60 124.20 H366.90" stroke="#000" stroke-width="1.5" fill="none"/>
<text x="160.6" y="188.2" class="pf">f</text>
<text x="165.1" y="192.9" class="ps">10</text>
<path d="M175.00 183.60 H178.00" stroke="#000" stroke-width="1.5" fill="none"/>
<path d="M179.20 183.30 H184.60 M181.90 180.40 V186.20" stroke="#000" stroke-width="1.35" fill="none"/>
<text x="359.6" y="257.6" class="pf">f</text>
<text x="364.1" y="262.3" class="ps">10</text>
<path d="M366.30 249.20 H371.70 M369.00 246.30 V252.10" stroke="#000" stroke-width="1.35" fill="none"/>
<path d="M371.60 249.20 H377.00 M374.30 246.30 V252.10" stroke="#000" stroke-width="1.35" fill="none"/>
<text x="340.6" y="370.3" class="pf">f</text>
<text x="345.1" y="375.0" class="ps">00</text>
<path d="M347.30 362.55 H352.70 M350.00 359.65 V365.45" stroke="#000" stroke-width="1.35" fill="none"/>
<path d="M352.60 362.55 H358.00 M355.30 359.65 V365.45" stroke="#000" stroke-width="1.35" fill="none"/>
<text x="75.3" y="294.7" class="pf">f</text>
<text x="79.8" y="299.4" class="ps">00</text>
<path d="M82.75 286.00 H88.15 M85.45 283.10 V288.90" stroke="#000" stroke-width="1.35" fill="none"/>
<path d="M88.50 286.40 H91.70" stroke="#000" stroke-width="1.5" fill="none"/>
<text x="192.8" y="20.5" class="tt">Im f</text>
<text x="219.0" y="24.9" class="tsn">&#923;</text><text x="225.7" y="24.9" class="tsn">&#947;</text><text x="233.2" y="24.9" class="tsb">0</text>
<text x="227.0" y="15.6" class="tsu">&#923;</text><text x="236.9" y="15.6" class="tsu">&#923;</text>
<path d="M244.0 6.6 l-0.9 2.8" stroke="#000" stroke-width="0.8"/>
<text x="330.3" y="46.0" class="an">Q<tspan dy="-6" font-size="8.5">2</tspan><tspan dy="6">= 1.6 GeV</tspan><tspan dy="-6" font-size="8.5">2</tspan></text>
<text x="330.3" y="58.3" class="an">x<tspan dy="3" font-size="7.5">Bj</tspan><tspan dy="-3">=0.19</tspan></text>
</svg>
</body></html>
